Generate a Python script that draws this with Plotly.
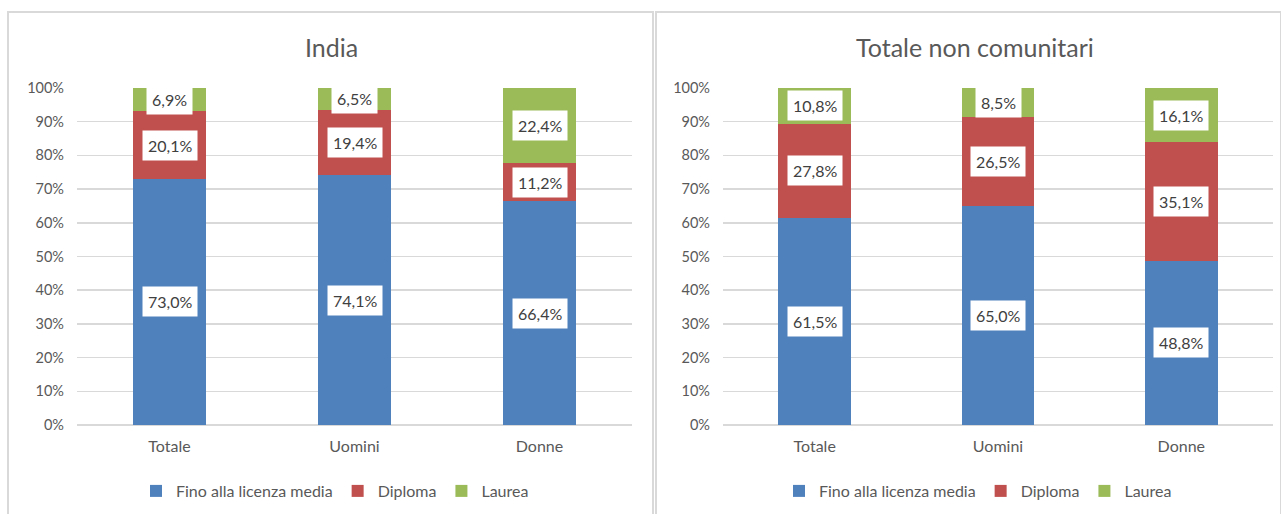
import plotly.graph_objects as go

categories = ["Totale", "Uomini", "Donne"]
series_names = ["Fino alla licenza media", "Diploma", "Laurea"]
india_fino = [73.0, 74.1, 66.4]
india_diploma = [20.1, 19.4, 11.2]
india_laurea = [6.9, 6.5, 22.4]
nonue_fino = [61.5, 65.0, 48.8]
nonue_diploma = [27.8, 26.5, 35.1]
nonue_laurea = [10.8, 8.5, 16.1]
titles = ["India", "Totale non comunitari"]
colors = ["#4F81BD", "#C0504D", "#9BBB59"]
tick_vals = [0, 10, 20, 30, 40, 50, 60, 70, 80, 90, 100]
tick_text = [f"{v}%" for v in tick_vals]

W, H = 1281, 514
FONT = "Lato"
GRAY = "#595959"
GRID = "#D9D9D9"

fig = go.Figure()

panels = [
    (titles[0], [india_fino, india_diploma, india_laurea], "x", "y", "legend"),
    (titles[1], [nonue_fino, nonue_diploma, nonue_laurea], "x2", "y2", "legend2"),
]

annotations = []
for (title, series, xa, ya, leg) in panels:
    cum = [0.0] * len(categories)
    for name, vals, col in zip(series_names, series, colors):
        fig.add_trace(go.Bar(
            x=categories, y=vals, name=name, marker=dict(color=col, line=dict(width=0)),
            xaxis=xa, yaxis=ya, legend=leg, hoverinfo="skip",
        ))
        for i, (c, v) in enumerate(zip(categories, vals)):
            annotations.append(dict(
                x=c, y=cum[i] + v / 2, xref=xa, yref=ya,
                text=(f"{v:.1f}%").replace(".", ","), showarrow=False,
                bgcolor="white", borderpad=5,
                font=dict(family=FONT, size=16, color="#404040"),
            ))
            cum[i] += v

# panel titles
annotations.append(dict(x=331 / W, y=1 - 47 / H, xref="paper", yref="paper", text=titles[0],
                        showarrow=False, font=dict(family=FONT, size=25, color=GRAY),
                        xanchor="center", yanchor="middle"))
annotations.append(dict(x=975 / W, y=1 - 47 / H, xref="paper", yref="paper", text=titles[1],
                        showarrow=False, font=dict(family=FONT, size=25, color=GRAY),
                        xanchor="center", yanchor="middle"))

ydom = [1 - 425 / H, 1 - 88 / H]
yax = dict(range=[0, 100], tickmode="array", tickvals=tick_vals, ticktext=tick_text,
           showgrid=True, gridcolor=GRID, automargin=False,
           gridwidth=1.5, zeroline=True, zerolinecolor=GRID, zerolinewidth=1.5, showline=False,
           tickfont=dict(family=FONT, size=14.5, color=GRAY), ticklabelstandoff=12, domain=ydom,
           fixedrange=True)
xax = dict(showgrid=False, showline=False, zeroline=False, automargin=False,
           tickfont=dict(family=FONT, size=16, color=GRAY), ticklabelstandoff=10, fixedrange=True)

top = 1 - 12 / H


def panel_path(x0, x1):
    return f"M {x0},0 L {x0},{top} L {x1},{top} L {x1},0"


legend_common = dict(orientation="h", y=1 - 491 / H, xanchor="center", yanchor="middle",
                     font=dict(family=FONT, size=16, color=GRAY), itemwidth=30,
                     traceorder="normal", bgcolor="rgba(0,0,0,0)")

fig.update_layout(
    width=W, height=H, margin=dict(l=0, r=0, t=0, b=0, pad=0, autoexpand=False),
    paper_bgcolor="white", plot_bgcolor="white",
    barmode="stack", bargap=0.605,
    xaxis=dict(xax, domain=[77 / W, 632 / W], anchor="y"),
    yaxis=dict(yax, anchor="x"),
    xaxis2=dict(xax, domain=[723 / W, 1273 / W], anchor="y2"),
    yaxis2=dict(yax, anchor="x2"),
    legend=dict(legend_common, x=335 / W),
    legend2=dict(legend_common, x=978 / W),
    annotations=annotations,
    shapes=[
        dict(type="path", xref="paper", yref="paper", path=panel_path(8 / W, 653 / W),
             line=dict(color=GRID, width=2), layer="below"),
        dict(type="path", xref="paper", yref="paper", path=panel_path(656 / W, 1.0),
             line=dict(color=GRID, width=2), layer="below"),
    ],
)

fig.write_html(
    "out.html",
    config={"displayModeBar": False, "staticPlot": True},
    post_script=(
        "document.documentElement.style.margin='0';document.documentElement.style.padding='0';"
        "document.body.style.margin='0';document.body.style.padding='0';"
        "document.body.style.overflow='hidden';"
    ),
)
